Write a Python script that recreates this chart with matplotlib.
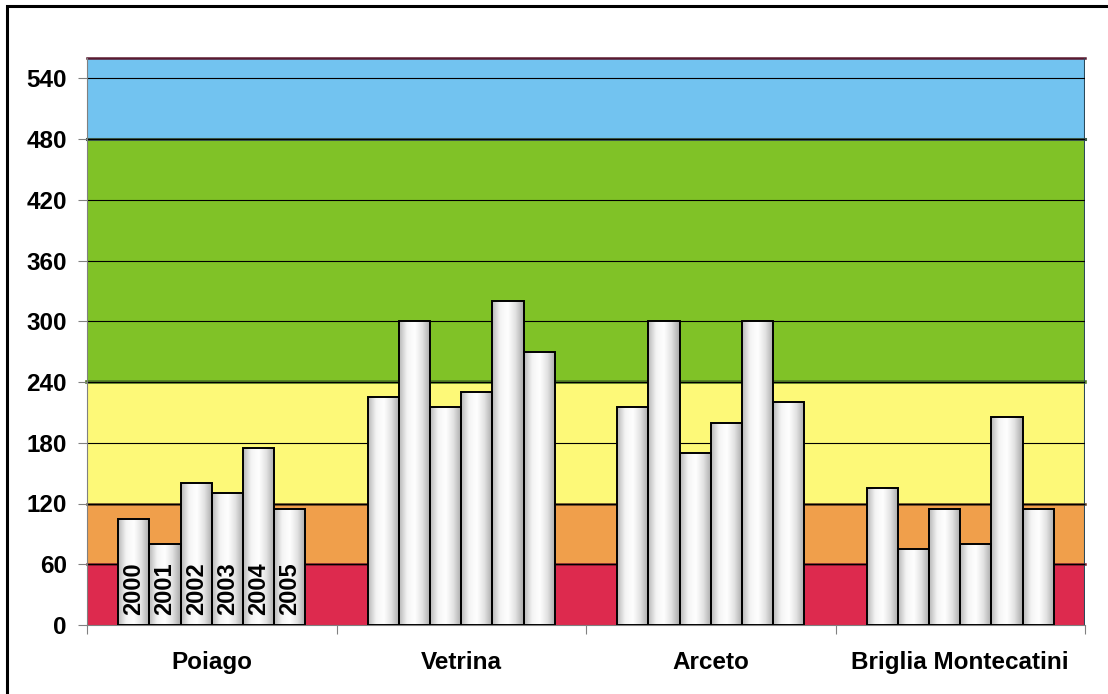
import numpy as np
import matplotlib
matplotlib.use("Agg")
import matplotlib.pyplot as plt
from matplotlib.colors import LinearSegmentedColormap
from matplotlib.patches import Rectangle

plt.rcParams['font.family'] = ['Liberation Sans', 'DejaVu Sans']

stations = ["Poiago", "Vetrina", "Arceto", "Briglia Montecatini"]
years = ["2000", "2001", "2002", "2003", "2004", "2005"]

poiago = [105, 80, 140, 130, 175, 115]
vetrina = [225, 300, 215, 230, 320, 270]
arceto = [215, 300, 170, 200, 300, 220]
briglia = [135, 75, 115, 80, 205, 115]

# quality classes (lower bound, upper bound, fill, edge, edge width)
bands = [
    (0, 60, "#dd2a4e", "#7a1a2c", 1.8),
    (60, 120, "#f09f4b", "#5a3a20", 1.8),
    (120, 240, "#fdf978", "#4f7a22", 2.6),
    (240, 480, "#80c227", "#3d5a4a", 2.2),
    (480, 560, "#72c3f0", "#5a1a30", 1.8),
]

fig = plt.figure(figsize=(11.08, 6.94), dpi=100)
fig.patches.append(Rectangle((7 / 1108, -0.1), 1.2, 1 - 6 / 694 + 0.1,
                             transform=fig.transFigure, fill=False,
                             edgecolor="black", linewidth=2.2))
ax = fig.add_axes([87 / 1108, 1 - 625 / 694, (1085 - 87) / 1108, (625 - 58) / 694])

for lo, hi, fc, ec, lw in bands:
    ax.axhspan(lo, hi, facecolor=fc, edgecolor="none", zorder=0)
    ax.axhline(hi, color=ec, linewidth=lw, zorder=1, clip_on=False)
ax.axvline(4, color="#2c4a5a", linewidth=1.5, zorder=1)

for y in range(60, 541, 60):
    ax.axhline(y, color="black", linewidth=0.8, zorder=1)

shade = LinearSegmentedColormap.from_list(
    "cyl", ["#b8b8b8", "#f4f4f4", "#ffffff", "#e0e0e0", "#a8a8a8"])
grad = np.linspace(0, 1, 64).reshape(1, -1)

width = 0.125
for g, vals in enumerate([poiago, vetrina, arceto, briglia]):
    for k, v in enumerate(vals):
        x0 = g + 0.125 + k * width
        ax.imshow(grad, extent=[x0, x0 + width, 0, v], aspect="auto",
                  cmap=shade, zorder=2, interpolation="bicubic")
        ax.bar(x0, v, width=width, align="edge", facecolor="none",
               edgecolor="black", linewidth=1.4, zorder=3)
        if g == 0:
            ax.text(x0 + width / 2, 10, years[k], rotation=90, ha="center",
                    va="bottom", fontsize=17, fontweight="bold", zorder=4)

ax.set_xlim(0, 4)
ax.set_ylim(0, 560)
ax.set_yticks(range(0, 541, 60))
ax.set_xticks(range(0, 5))
ax.set_xticklabels([])
ax.set_xticks([g + 0.5 for g in range(4)], minor=True)
ax.set_xticklabels(stations, minor=True, fontsize=17.5, fontweight="bold")
ax.tick_params(axis="x", which="minor", length=0, pad=19)
ax.tick_params(axis="x", which="major", length=6.5, color="#808080", direction="out")
ax.tick_params(axis="y", length=6.5, color="#808080", pad=8, labelsize=17.5)
for lab in ax.get_yticklabels():
    lab.set_fontweight("bold")

for side in ["top", "right"]:
    ax.spines[side].set_visible(False)
ax.spines["left"].set_color("#808080")
ax.spines["bottom"].set_color("#808080")

fig.savefig("out.png", dpi=100)
